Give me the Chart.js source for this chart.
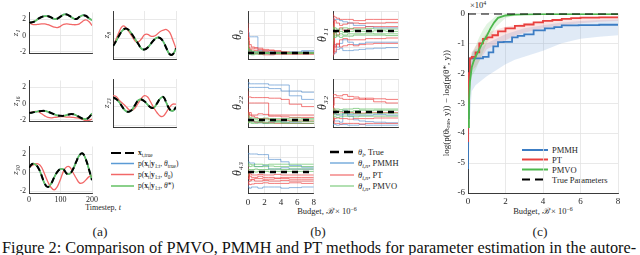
<!DOCTYPE html>
<html>
<head>
<meta charset="utf-8">
<script src="https://cdn.jsdelivr.net/npm/chart.js@4.4.1/dist/chart.umd.min.js"></script>
<style>
  html, body { margin: 0; padding: 0; background: #fff; }
  body { width: 640px; height: 255px; position: relative; overflow: hidden;
         font-family: "Liberation Serif", "DejaVu Serif", serif; color: #262626; }
  canvas { position: absolute; }
  .t { position: absolute; white-space: nowrap; line-height: 1; }
  .c { transform: translate(-50%, -50%); }
  .m { transform: translateY(-50%); }
  sub { font-size: 70%; vertical-align: -0.3em; line-height: 0; }
  sup { font-size: 70%; vertical-align: 0.45em; line-height: 0; }
  svg { position: absolute; left: 0; top: 0; }
</style>
</head>
<body>

<svg width="640" height="255">
  <!-- legend (a) -->
  <line x1="111" y1="153" x2="134" y2="153" stroke="#000" stroke-width="2" stroke-dasharray="10 4"/>
  <line x1="111" y1="163.5" x2="134" y2="163.5" stroke="#5b9bd5" stroke-width="1.5"/>
  <line x1="111" y1="174.5" x2="134" y2="174.5" stroke="#f26868" stroke-width="1.5"/>
  <line x1="111" y1="186" x2="134" y2="186" stroke="#63c063" stroke-width="1.5"/>
  <!-- legend (b) -->
  <line x1="330" y1="152" x2="354" y2="152" stroke="#000" stroke-width="2.5" stroke-dasharray="9 5"/>
  <line x1="330" y1="163" x2="354" y2="163" stroke="#7aaedc" stroke-width="1.5"/>
  <line x1="330" y1="175" x2="354" y2="175" stroke="#f06a6a" stroke-width="1.2"/>
  <line x1="330" y1="186" x2="354" y2="186" stroke="#7fcc7f" stroke-width="1.2"/>
  <!-- legend (c) -->
  <line x1="522" y1="150" x2="548" y2="150" stroke="#3c7dc4" stroke-width="2"/>
  <line x1="522" y1="159.5" x2="548" y2="159.5" stroke="#e8403e" stroke-width="2"/>
  <line x1="522" y1="169.5" x2="548" y2="169.5" stroke="#4db84d" stroke-width="2"/>
  <line x1="522" y1="179.5" x2="548" y2="179.5" stroke="#000" stroke-width="2" stroke-dasharray="8 5"/>
</svg>

<div class="t m" style="left:138px;top:153px;font-size:7.5px"><b>x</b><sub>t,true</sub></div>
<div class="t m" style="left:138px;top:163.5px;font-size:7.5px">p(<b>x</b><sub>t</sub>|<b>y</b><sub>1:t</sub>, <i>θ</i><sub>true</sub>)</div>
<div class="t m" style="left:138px;top:174.5px;font-size:7.5px">p(<b>x</b><sub>t</sub>|<b>y</b><sub>1:t</sub>, <i>θ</i><sub>0</sub>)</div>
<div class="t m" style="left:138px;top:186px;font-size:7.5px">p(<b>x</b><sub>t</sub>|<b>y</b><sub>1:t</sub>, <i>θ</i>*)</div>

<div class="t m" style="left:358px;top:152px;font-size:8.5px"><i>θ</i><sub><i>i</i></sub>, True</div>
<div class="t m" style="left:358px;top:163px;font-size:8.5px"><i>θ</i><sub><i>i,n</i></sub>, PMMH</div>
<div class="t m" style="left:358px;top:175px;font-size:8.5px"><i>θ</i><sub><i>i,n</i></sub>, PT</div>
<div class="t m" style="left:358px;top:186px;font-size:8.5px"><i>θ</i><sub><i>i,n</i></sub>, PMVO</div>

<div class="t m" style="left:552px;top:150px;font-size:8.5px">PMMH</div>
<div class="t m" style="left:552px;top:159.5px;font-size:8.5px">PT</div>
<div class="t m" style="left:552px;top:169.5px;font-size:8.5px">PMVO</div>
<div class="t m" style="left:552px;top:179.5px;font-size:8.5px">True Parameters</div>

<div class="t c" style="left:103px;top:208px;font-size:8px">Timestep, <i>t</i></div>
<div class="t c" style="left:327px;top:211px;font-size:8.5px">Budget, <i>ℬ</i> × 10<sup>−6</sup></div>
<div class="t c" style="left:543px;top:211px;font-size:8.5px">Budget, <i>ℬ</i> × 10<sup>−6</sup></div>
<div class="t" style="left:470px;top:1px;font-size:8.5px">×10<sup>4</sup></div>

<div class="t c" style="left:100px;top:232px;font-size:13.5px">(a)</div>
<div class="t c" style="left:318px;top:232px;font-size:13.5px">(b)</div>
<div class="t c" style="left:540px;top:232px;font-size:13.5px">(c)</div>
<div class="t" id="caption" style="left:2px;top:240px;font-size:16.3px;color:#111">Figure 2: Comparison of PMVO, PMMH and PT methods for parameter estimation in the autore-</div>

<script>
// ---- panel (a): latent states over time ----
const timesteps = [0,10,20,30,40,50,60,70,80,90,100,110,120,130,140,150,160,170,180,190,200];
const z1True  = [1.6,1.65,1.8,2.1,2.3,2.4,2.4,2.25,2.05,2.1,2.35,2.6,2.6,2.4,2.15,2.05,2.3,2.5,2.45,2.15,1.9];
const z1Init  = [1.6,1.4,1.35,1.4,1.45,1.45,1.35,1.2,1.05,1.0,1.15,1.4,1.45,1.4,1.35,1.35,1.45,1.75,1.95,1.75,1.25];
const z8True  = [-0.85,-0.3,0.3,0.8,1.0,0.85,0.4,-0.1,-0.6,-1.1,-1.2,-1.0,-0.6,-0.2,0.05,0.0,-0.4,-1.1,-1.7,-1.7,-1.1];
const z8Init  = [-0.85,-0.1,0.7,1.25,1.15,0.7,0.2,-0.3,-0.4,-0.1,0.35,0.4,0.2,0.2,0.4,0.7,0.85,0.9,0.6,-0.2,-1.1];
const z16True = [-1.15,-1.1,-1.0,-0.95,-0.9,-0.9,-1.0,-1.15,-1.3,-1.45,-1.5,-1.5,-1.4,-1.3,-1.3,-1.45,-1.65,-1.85,-1.9,-1.7,-1.2];
const z16Init = [-1.15,-1.05,-0.95,-1.0,-1.25,-1.5,-1.7,-1.75,-1.7,-1.65,-1.6,-1.6,-1.65,-1.65,-1.7,-1.75,-1.8,-1.95,-2.1,-2.05,-1.9];
const z23True = [0.9,0.75,0.4,-0.1,-0.5,-0.6,-0.4,0.1,0.6,0.7,0.5,0.15,-0.15,-0.15,0.3,0.8,0.95,0.3,-0.35,-0.5,-0.1];
const z23Init = [1.1,1.0,0.6,0.3,0.0,-0.35,-0.45,-0.2,0.3,0.8,1.1,0.95,0.4,-0.2,-0.7,-1.05,-1.05,-0.6,-0.1,0.2,0.2];
const z30True = [0.55,0.95,0.9,0.5,-0.3,-1.2,-1.55,-1.2,-0.5,0.1,0.4,0.35,-0.1,-0.1,0.4,1.2,1.9,2.1,1.5,0.4,-0.8];
const z30Init = [0.55,0.8,0.95,0.95,0.6,-0.2,-1.0,-1.6,-1.85,-1.5,-0.7,0.2,0.65,0.6,0.0,-0.6,-1.1,-1.1,-0.8,-0.45,-0.3];

// ---- panel (b): parameter traces vs budget ----
const budgetSteps = [0,0.15,0.4,0.8,1.2,1.8,2.5,3.2,4,5,6.5,8];
const thetaTrue = [0.5, 2.33, 0.58, 1.25, 1.75]; // theta_0, 11, 22, 32, 43

const th0Blue = [
  [2.4,2.2,1.85,1.85,1.85,0.7,0.65,0.6,0.55,0.5,0.6,0.7],
  [0.9,0.7,0.6,0.55,0.5,0.45,0.45,0.4,0.45,0.5,0.45,0.45],
  [1.5,0.8,0.7,0.6,0.6,0.55,0.5,0.55,0.6,0.55,0.55,0.6]];
const th0Red = [
  [3.0,1.5,1.2,1.0,0.95,0.9,0.8,0.75,0.7,0.6,0.55,0.5],
  [2.2,1.8,0.9,0.9,0.85,0.8,0.7,0.7,0.6,0.55,0.5,0.5],
  [1.2,0.8,0.6,0.5,0.45,0.4,0.35,0.35,0.4,0.4,0.4,0.4],
  [2.6,1.0,0.8,0.75,0.7,0.65,0.6,0.55,0.5,0.45,0.45,0.45]];
const th0Green = [
  [1.2,0.8,0.7,0.65,0.6,0.55,0.55,0.5,0.5,0.5,0.5,0.5],
  [0.8,0.6,0.5,0.45,0.45,0.5,0.45,0.45,0.5,0.45,0.5,0.5],
  [0.6,0.4,0.4,0.35,0.4,0.4,0.45,0.45,0.45,0.45,0.45,0.45],
  [1.6,0.9,0.75,0.6,0.55,0.6,0.55,0.55,0.55,0.55,0.55,0.55]];

const th11Blue = [
  [0.5,0.4,0.5,0.8,0.9,0.7,0.7,0.75,0.8,0.85,0.9,0.95],
  [3.5,3.2,3.3,3.3,3.2,3.1,3.0,2.8,2.8,2.7,2.6,2.6],
  [2.0,1.5,1.2,1.0,1.3,1.6,1.4,1.2,1.3,1.4,1.4,1.4]];
const th11Red = [
  [3.8,3.6,3.5,3.4,3.3,3.3,3.3,3.2,3.2,3.3,3.3,3.3],
  [0.2,2.5,1.0,1.2,1.6,1.7,1.6,1.6,1.6,1.7,1.7,1.75],
  [3.0,1.8,3.2,3.0,2.8,2.9,3.0,3.0,2.95,3.0,3.0,3.05],
  [1.5,3.4,0.6,1.3,1.0,1.1,1.2,1.1,1.2,1.25,1.3,1.3],
  [2.5,0.4,2.2,2.0,2.6,2.4,2.5,2.6,2.6,2.7,2.7,2.7]];
const th11Green = [
  [2.0,2.6,2.2,2.4,2.3,2.2,2.3,2.35,2.3,2.3,2.35,2.3],
  [1.5,2.0,1.8,2.0,2.1,2.0,2.1,2.1,2.1,2.15,2.1,2.1],
  [2.8,2.4,2.6,2.5,2.5,2.6,2.55,2.5,2.5,2.55,2.5,2.5],
  [1.2,1.8,2.3,1.9,1.8,1.9,1.9,2.0,2.0,2.0,2.0,1.95]];

const th22Blue = [
  [3.5,3.3,3.3,3.3,3.3,3.3,3.3,3.2,3.2,3.0,2.6,2.3],
  [3.2,3.7,3.6,3.6,3.6,3.6,3.6,3.5,3.5,3.5,3.0,2.9],
  [0.5,0.8,0.6,0.5,0.4,0.35,0.3,0.4,0.5,0.4,0.35,0.3]];
const th22Red = [
  [3.0,2.5,2.5,2.45,2.45,2.45,2.45,2.4,2.4,2.3,1.9,1.7],
  [2.6,2.0,2.0,2.0,2.0,2.0,2.0,0.9,0.9,0.85,0.8,0.8],
  [1.5,0.8,1.2,0.9,0.8,0.7,0.7,0.6,0.6,0.55,0.5,0.5],
  [2.0,0.4,0.6,0.5,0.4,0.4,0.35,0.35,0.3,0.3,0.3,0.3],
  [1.0,1.2,1.0,1.0,1.0,1.1,1.05,1.0,1.0,1.0,1.0,1.0]];
const th22Green = [
  [0.8,0.6,0.7,0.6,0.6,0.55,0.6,0.6,0.55,0.6,0.6,0.6],
  [0.5,0.4,0.45,0.4,0.45,0.45,0.4,0.45,0.45,0.4,0.45,0.45],
  [1.2,0.9,0.8,0.75,0.7,0.7,0.75,0.7,0.7,0.7,0.75,0.7],
  [0.3,0.5,0.35,0.3,0.3,0.35,0.3,0.3,0.35,0.3,0.3,0.3]];

const th32Blue = [
  [0.3,0.2,0.2,0.15,0.2,0.2,0.15,0.15,0.2,0.15,0.15,0.15],
  [1.0,0.6,0.5,0.5,0.4,1.4,0.9,0.6,0.5,0.45,0.4,0.35],
  [1.4,1.2,1.1,1.0,1.0,1.1,1.05,1.0,1.0,1.0,1.05,1.0]];
const th32Red = [
  [1.0,2.7,2.7,2.6,2.6,2.7,2.55,2.5,2.4,2.3,2.1,2.0],
  [1.5,1.8,2.45,2.45,2.4,2.3,2.3,2.35,2.3,2.4,2.35,2.3],
  [0.5,0.8,0.3,0.3,0.25,0.3,0.3,0.3,0.25,0.3,0.3,0.3],
  [2.2,0.6,0.7,0.75,0.7,0.7,0.65,0.7,0.7,0.7,0.75,0.75],
  [0.8,1.6,1.4,1.3,1.25,1.2,1.2,1.15,1.15,1.2,1.2,1.2]];
const th32Green = [
  [1.6,1.3,1.4,1.35,1.3,1.35,1.3,1.35,1.4,1.35,1.4,1.4],
  [0.9,1.0,1.1,1.05,1.1,1.1,1.15,1.1,1.1,1.15,1.15,1.15],
  [1.2,1.5,1.5,1.5,1.45,1.5,1.5,1.55,1.5,1.5,1.5,1.5],
  [0.6,0.9,0.85,0.8,0.85,0.9,0.9,0.85,0.9,0.9,0.9,0.9]];

const th43Blue = [
  [2.7,3.3,3.25,3.25,3.25,3.2,3.2,2.8,2.8,2.6,2.3,2.15],
  [2.0,2.6,2.5,2.5,2.2,2.2,2.3,2.0,2.0,2.1,2.0,2.0],
  [1.0,0.5,0.4,0.5,0.5,0.4,0.5,0.5,0.5,0.4,0.45,0.5]];
const th43Red = [
  [2.0,1.5,1.4,1.3,1.3,1.4,1.3,1.3,1.25,1.3,1.3,1.3],
  [1.0,0.9,1.0,1.1,1.0,1.0,1.05,1.0,1.0,1.05,1.0,1.0],
  [1.6,1.2,1.6,1.5,1.5,1.55,1.5,1.5,1.55,1.5,1.5,1.5],
  [0.6,0.8,0.7,0.75,0.8,0.8,0.85,0.8,0.8,0.8,0.85,0.8],
  [2.4,1.8,1.1,1.15,1.2,1.2,1.15,1.15,1.2,1.2,1.15,1.15]];
const th43Green = [
  [2.2,2.3,2.2,2.25,2.2,2.2,2.2,2.25,2.2,2.2,2.2,2.2],
  [1.8,2.0,1.95,1.95,2.0,1.95,1.95,2.0,2.0,1.95,2.0,2.0],
  [1.4,1.7,1.8,1.8,1.75,1.8,1.8,1.75,1.8,1.8,1.8,1.8],
  [2.6,2.4,2.4,2.35,2.4,2.4,2.35,2.4,2.4,2.4,2.4,2.4]];

// ---- panel (c): log-likelihood gap (x1e4) ----
const cBlueX  = [0,0.05,0.1,0.2,0.5,0.8,1.1,1.35,1.6,1.9,2.35,2.65,3.0,3.5,4.1,4.6,5.0,5.9,7,8];
const cBlueY  = [-5.2,-3.5,-2.2,-1.5,-1.5,-1.5,-1.45,-1.3,-1.1,-0.96,-0.95,-0.8,-0.75,-0.7,-0.57,-0.5,-0.46,-0.4,-0.39,-0.38];
const cRedX   = [0,0.05,0.1,0.2,0.4,0.6,0.8,1.0,1.3,1.6,2.0,2.5,3.0,3.5,4.0,4.5,5.0,5.5,6,7,8];
const cRedY   = [-4.3,-3.0,-2.0,-1.5,-1.45,-1.3,-1.0,-0.85,-0.8,-0.73,-0.6,-0.5,-0.42,-0.37,-0.3,-0.25,-0.22,-0.18,-0.16,-0.14,-0.13];
const cGreenX = [0,0.05,0.1,0.2,0.3,0.4,0.6,0.8,1.0,1.2,1.4,1.6,2.0,2.5,3,4,5,6,7,8];
const cGreenY = [-3.8,-3.0,-2.3,-1.8,-1.6,-1.45,-1.2,-0.95,-0.75,-0.5,-0.3,-0.15,-0.07,-0.04,-0.03,-0.02,-0.02,-0.02,-0.02,-0.02];
const bandX    = [0,0.1,0.2,0.4,0.6,0.8,1,1.5,2,2.5,3,4,5,6,7,8];
const blueLo   = [-6,-3.5,-2.6,-2.4,-2.3,-2.2,-2.1,-1.9,-1.7,-1.55,-1.45,-1.25,-1.0,-0.85,-0.78,-0.73];
const blueHi   = [-4.5,-2.0,-1.3,-1.2,-1.15,-1.1,-1.0,-0.85,-0.7,-0.6,-0.5,-0.4,-0.3,-0.25,-0.22,-0.2];
const redLo    = [-5,-2.5,-1.9,-1.8,-1.6,-1.4,-1.2,-1.05,-0.9,-0.75,-0.65,-0.5,-0.4,-0.33,-0.28,-0.25];
const redHi    = [-3.5,-1.6,-1.3,-1.1,-0.95,-0.8,-0.65,-0.55,-0.45,-0.4,-0.33,-0.25,-0.17,-0.12,-0.1,-0.08];
const greenLo  = [-4.5,-2.6,-2.1,-1.9,-1.6,-1.3,-1.0,-0.45,-0.15,-0.08,-0.05,-0.04,-0.03,-0.03,-0.03,-0.03];
const greenHi  = [-3,-1.8,-1.4,-1.1,-0.8,-0.55,-0.35,-0.08,-0.02,-0.01,-0.01,0,0,0,0,0];
const budgetRange = [0, 8];
const trueGap = [0, 0];

const SERIF = '"Liberation Serif", "DejaVu Serif", serif';
Chart.defaults.font.family = SERIF;
Chart.defaults.color = '#262626';

const pts = (xs, ys) => xs.map((x, i) => ({ x, y: ys[i] }));
const GRID = '#e3e3e3';
const AXIS = '#262626';

// datasets are given bottom-to-top; 'order' makes the last one draw on top
function plot(box, pad, datasets, xOpt, yOpt) {
  datasets.forEach((d, i) => { d.order = datasets.length - i; });
  const c = document.createElement('canvas');
  const W = box.w + pad.l + pad.r, H = box.h + pad.t + pad.b;
  c.width = W; c.height = H;
  c.style.left = (box.x - pad.l) + 'px';
  c.style.top = (box.y - pad.t) + 'px';
  c.style.width = W + 'px'; c.style.height = H + 'px';
  document.body.appendChild(c);
  new Chart(c, {
    type: 'line',
    data: { datasets },
    options: {
      responsive: false, animation: false, devicePixelRatio: 1,
      layout: { padding: { top: pad.t, right: pad.r, left: 0, bottom: 0 } },
      plugins: { legend: { display: false }, tooltip: { enabled: false } },
      elements: { point: { radius: 0 } },
      scales: {
        x: Object.assign({ type: 'linear', grid: { color: GRID, lineWidth: 0.8, drawTicks: false },
             border: { color: AXIS, width: 0.9 }, afterFit: s => { s.height = pad.b; } }, xOpt),
        y: Object.assign({ type: 'linear', grid: { color: GRID, lineWidth: 0.8, drawTicks: false },
             border: { color: AXIS, width: 0.9 }, afterFit: s => { s.width = pad.l; } }, yOpt)
      }
    }
  });
}

// panel (a)
function stateSets(trueY, initY) {
  return [
    { data: pts(timesteps, trueY), borderColor: '#5b9bd5', borderWidth: 1.5, tension: 0.4 },
    { data: pts(timesteps, initY), borderColor: '#f26868', borderWidth: 1.3, tension: 0.4 },
    { data: pts(timesteps, trueY), borderColor: '#63c063', borderWidth: 1.7, tension: 0.4 },
    { data: pts(timesteps, trueY), borderColor: '#000', borderWidth: 2, borderDash: [6, 4], tension: 0.4 }
  ];
}
function stateAxes(label, showY, showX, titlePad) {
  const x = { min: 0, max: 200, ticks: { display: showX, stepSize: 100, padding: 2, font: { size: 8 } } };
  const y = { min: -2.2, max: 2.85,
    ticks: { display: showY, stepSize: 2, includeBounds: false, padding: 3, font: { size: 7.5 } },
    title: { display: true, text: label, font: { size: 9, style: 'italic' }, padding: { top: titlePad, bottom: 0 } } };
  return [x, y];
}
const aL = { x: 29, w: 63 }, aR = { x: 113, w: 63 };
const rows = [11, 79, 145];
[
  [aL, rows[0], 'z₁', z1True, z1Init, true, false],
  [aR, rows[0], 'z₈', z8True, z8Init, false, false],
  [aL, rows[1], 'z₁₆', z16True, z16Init, true, false],
  [aR, rows[1], 'z₂₃', z23True, z23Init, false, false],
  [aL, rows[2], 'z₃₀', z30True, z30Init, true, true]
].forEach(([col, top, label, tY, iY, showY, showX]) => {
  const left = col === aL;
  const pad = { l: left ? 29 : 21, r: 8, t: 6, b: showX ? 14 : 2 };
  const [x, y] = stateAxes(label, showY, showX, left ? 10.5 : 9.5);
  plot({ x: col.x, y: top, w: col.w, h: 48 }, pad, stateSets(tY, iY), x, y);
});

// panel (b)
function traceSets(blue, red, green, truth) {
  const mk = (sets, color, w) => sets.map(ys => ({ data: pts(budgetSteps, ys), borderColor: color, borderWidth: w, stepped: 'after' }));
  return [
    ...mk(blue, 'rgba(80,140,205,0.8)', 0.8),
    ...mk(red, 'rgba(236,60,60,0.85)', 0.8),
    ...mk(green, 'rgba(95,190,95,0.85)', 0.8),
    { data: pts(budgetRange, [truth, truth]), borderColor: '#000', borderWidth: 2.6, borderDash: [6, 5] }
  ];
}
const bL = { x: 248, w: 66 }, bR = { x: 333, w: 65 };
[
  [bL, rows[0], 'θ₀', th0Blue, th0Red, th0Green, thetaTrue[0], false],
  [bR, rows[0], 'θ₁₁', th11Blue, th11Red, th11Green, thetaTrue[1], false],
  [bL, rows[1], 'θ₂₂', th22Blue, th22Red, th22Green, thetaTrue[2], false],
  [bR, rows[1], 'θ₃₂', th32Blue, th32Red, th32Green, thetaTrue[3], false],
  [bL, rows[2], 'θ₄₃', th43Blue, th43Red, th43Green, thetaTrue[4], true]
].forEach(([col, top, label, bl, rd, gr, truth, showX]) => {
  const left = col === bL;
  const pad = { l: left ? 20 : 19, r: 6, t: 6, b: showX ? 16 : 2 };
  const x = { min: 0, max: 8, ticks: { display: showX, stepSize: 2, padding: 4, font: { size: 9 } } };
  const y = { min: 0, max: 4, ticks: { display: false, stepSize: 1 },
    title: { display: true, text: label, font: { size: 12, style: 'italic' }, padding: { top: left ? 2.8 : 1.8, bottom: 0 } } };
  plot({ x: col.x, y: top, w: col.w, h: 48 }, pad, traceSets(bl, rd, gr, truth), x, y);
});

// panel (c)
const cSets = [
  { data: pts(bandX, blueLo), borderWidth: 0, borderColor: 'rgba(0,0,0,0)' },
  { data: pts(bandX, blueHi), borderWidth: 0, borderColor: 'rgba(0,0,0,0)', fill: '-1', backgroundColor: 'rgba(60,125,196,0.16)' },
  { data: pts(bandX, redLo), borderWidth: 0, borderColor: 'rgba(0,0,0,0)' },
  { data: pts(bandX, redHi), borderWidth: 0, borderColor: 'rgba(0,0,0,0)', fill: '-1', backgroundColor: 'rgba(232,64,62,0.14)' },
  { data: pts(bandX, greenLo), borderWidth: 0, borderColor: 'rgba(0,0,0,0)' },
  { data: pts(bandX, greenHi), borderWidth: 0, borderColor: 'rgba(0,0,0,0)', fill: '-1', backgroundColor: 'rgba(77,184,77,0.16)' },
  { data: pts(cBlueX, cBlueY), borderColor: '#3c7dc4', borderWidth: 1.8, stepped: 'after' },
  { data: pts(cRedX, cRedY), borderColor: '#e8403e', borderWidth: 1.8, stepped: 'after' },
  { data: pts(cGreenX, cGreenY), borderColor: '#4db84d', borderWidth: 1.8 },
  { data: pts(budgetRange, trueGap), borderColor: '#000', borderWidth: 2, borderDash: [8, 5] }
];
plot({ x: 468, y: 11, w: 150, h: 182 }, { l: 38, r: 8, t: 6, b: 24 }, cSets,
  { min: 0, max: 8, ticks: { stepSize: 2, padding: 3.5, font: { size: 9 } } },
  { min: -6, max: 0, ticks: { stepSize: 1, padding: 3, font: { size: 9 } },
    title: { display: true, text: 'log(p(θₜᵣᵤₑ, y)) − log(p(θ*, y))', font: { size: 9 }, padding: { top: 11.5, bottom: 0 } } });
</script>
</body>
</html>
